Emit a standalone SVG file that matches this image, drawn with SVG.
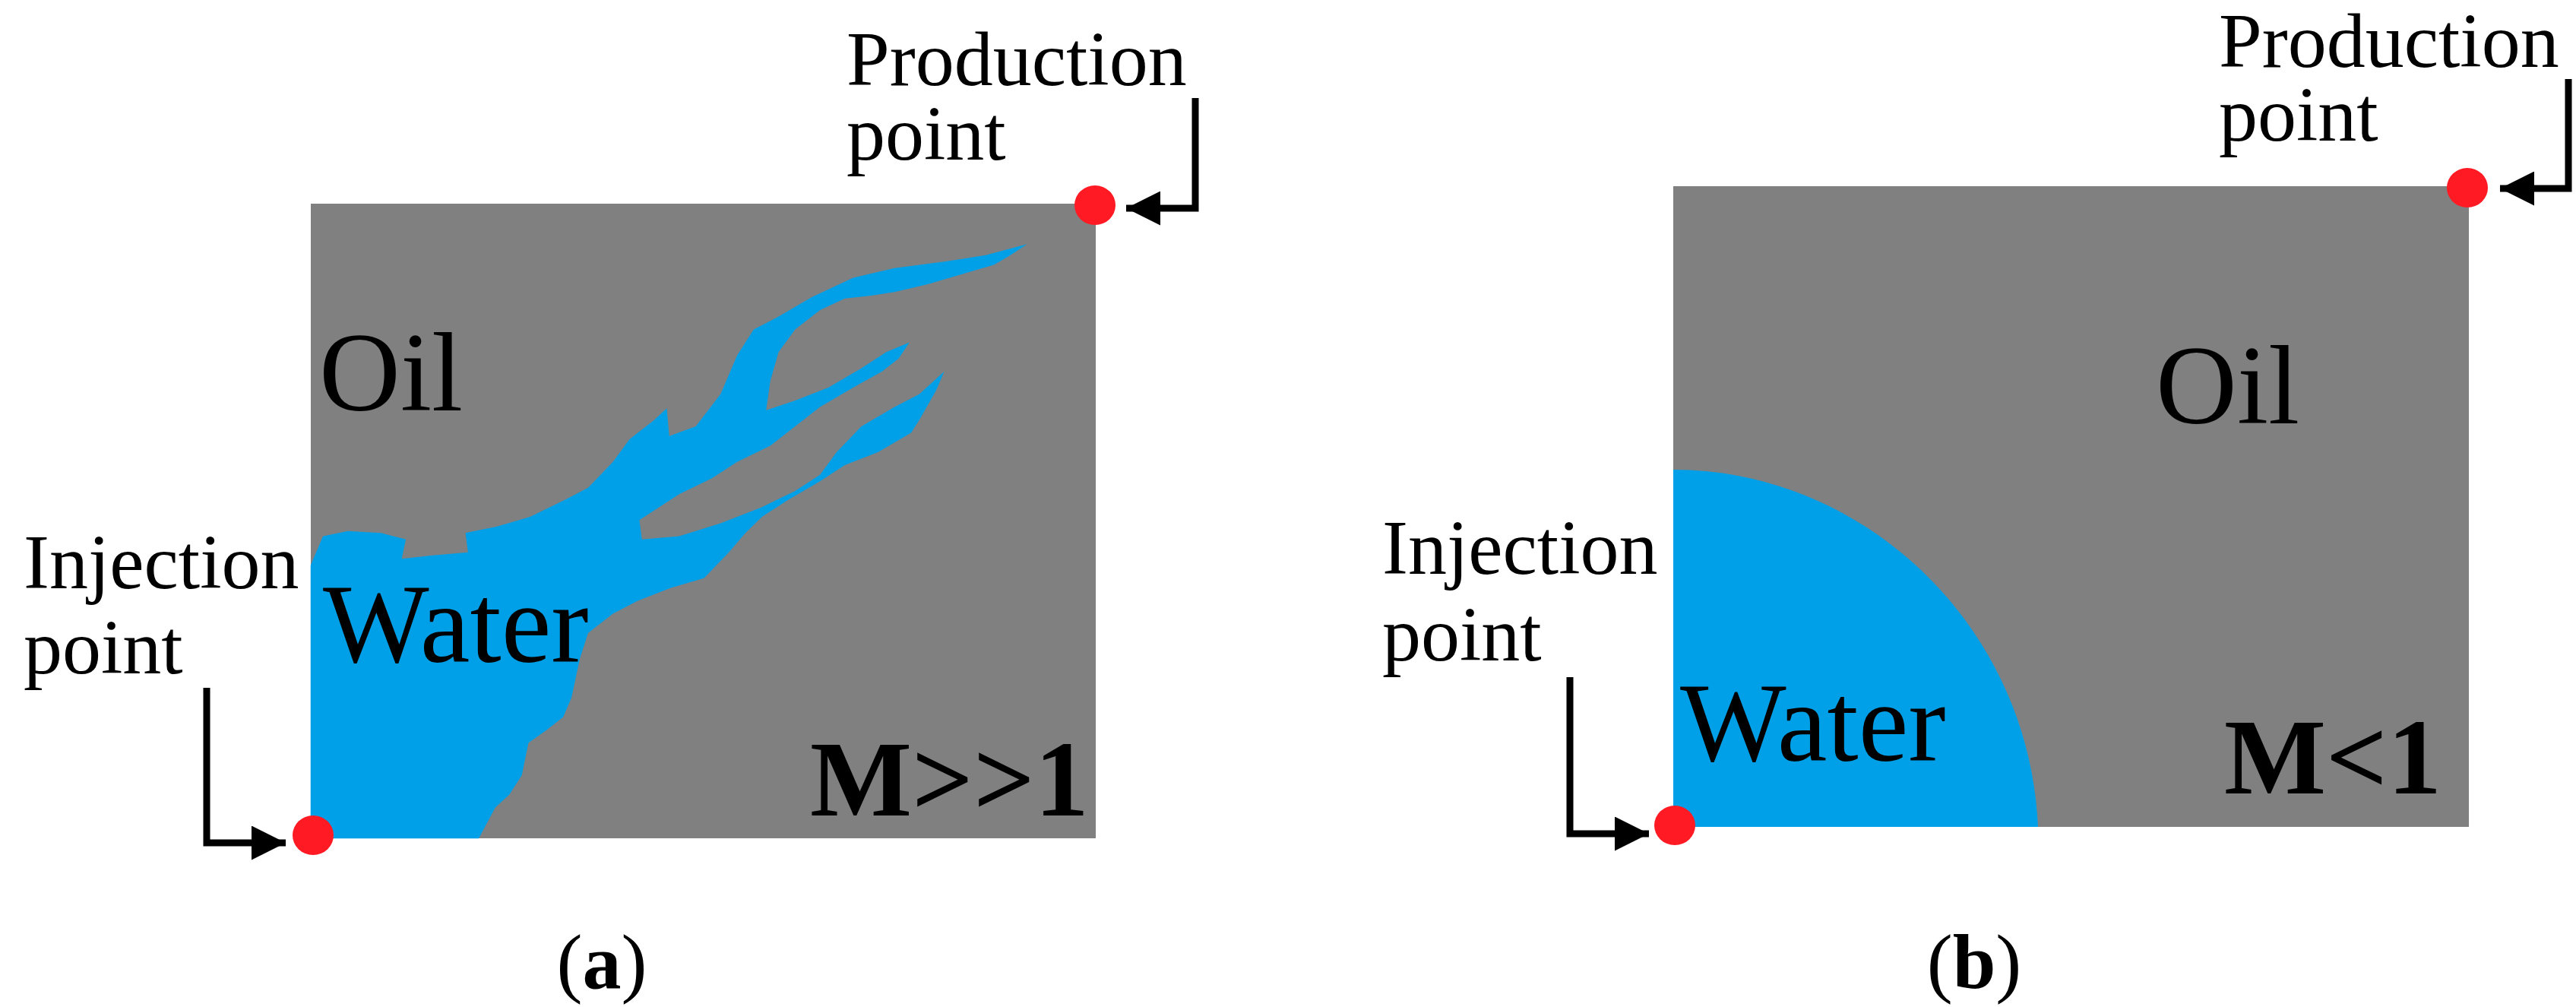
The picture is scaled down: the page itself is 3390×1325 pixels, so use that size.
<svg xmlns="http://www.w3.org/2000/svg" width="3390" height="1325" viewBox="0 0 3390 1325">
<style>
.lbl{font-size:102px}
.big{font-size:148px}
.m{font-size:142px;font-weight:bold}
.w{fill:#00a0e8}
.dot{fill:#ff1a24}
.c{fill:none;stroke:#000;stroke-width:9}
</style>
<defs>
<marker id="ah" viewBox="0 0 10 10" refX="10" refY="5" markerWidth="5" markerHeight="5" markerUnits="strokeWidth" orient="auto"><path d="M0,0 L10,5 L0,10 z" fill="#000"/></marker>
</defs>
<g id="panel-a">
<rect x="409" y="268" width="1033" height="835" fill="#808080"/>
<path class="w" transform="matrix(1.09,0,0,0.85,0,0)" d="M375,875 L390,830 420,822 460,825 490,835 485,865 520,860 565,855 562,825 600,815 640,800 680,775 710,755 740,715 760,680 790,650 805,632 808,675 840,660 855,635 870,610 890,550 910,510 940,490 980,460 1030,430 1080,415 1140,405 1190,395 1240,378 1220,395 1200,410 1160,425 1120,440 1080,452 1050,458 1020,462 990,480 960,510 940,545 930,590 925,635 960,620 1000,600 1040,570 1070,545 1098,530 1085,555 1065,575 1030,600 990,630 960,660 930,690 890,715 860,740 820,765 790,790 772,805 775,835 820,830 870,810 920,785 960,760 990,735 1010,700 1040,660 1080,630 1110,610 1140,575 1130,605 1110,650 1100,670 1060,700 1020,720 990,745 950,775 920,800 900,825 880,855 850,895 810,910 770,930 740,950 710,980 700,1020 690,1080 680,1110 660,1130 638,1150 630,1200 615,1230 598,1250 578,1298 375,1298 Z"/>
<text font-family="Liberation Serif, Times New Roman, serif" class="big" x="420" y="540">Oil</text>
<text font-family="Liberation Serif, Times New Roman, serif" class="big" x="425" y="871">Water</text>
<text font-family="Liberation Serif, Times New Roman, serif" class="m" x="1066" y="1073">M&gt;&gt;1</text>
</g>
<g id="production-a">
<ellipse class="dot" cx="1441" cy="270" rx="27" ry="26"/>
<text font-family="Liberation Serif, Times New Roman, serif" class="lbl" x="1114" y="112">Production</text>
<text font-family="Liberation Serif, Times New Roman, serif" class="lbl" x="1114" y="210">point</text>
</g>
<g id="injection-a">
<ellipse class="dot" cx="412" cy="1099" rx="27" ry="26"/>
<text font-family="Liberation Serif, Times New Roman, serif" class="lbl" x="31" y="774">Injection</text>
<text font-family="Liberation Serif, Times New Roman, serif" class="lbl" x="31" y="886">point</text>
</g>
<text font-family="Liberation Serif, Times New Roman, serif" class="lbl" x="792" y="1300" text-anchor="middle">(<tspan font-weight="bold">a</tspan>)</text>
<g id="panel-b">
<rect x="2202" y="245" width="1047" height="843" fill="#808080"/>
<path class="w" d="M2202,1088 V618 C2450,618 2670,820 2682,1088 Z"/>
<text font-family="Liberation Serif, Times New Roman, serif" class="big" x="2837" y="557">Oil</text>
<text font-family="Liberation Serif, Times New Roman, serif" class="big" x="2211" y="1001">Water</text>
<text font-family="Liberation Serif, Times New Roman, serif" class="m" x="2927" y="1044">M&lt;1</text>
</g>
<g id="production-b">
<ellipse class="dot" cx="3247" cy="247" rx="27" ry="26"/>
<text font-family="Liberation Serif, Times New Roman, serif" class="lbl" x="2920" y="88">Production</text>
<text font-family="Liberation Serif, Times New Roman, serif" class="lbl" x="2920" y="185">point</text>
</g>
<g id="injection-b">
<ellipse class="dot" cx="2204" cy="1086" rx="27" ry="26"/>
<text font-family="Liberation Serif, Times New Roman, serif" class="lbl" x="1819" y="755">Injection</text>
<text font-family="Liberation Serif, Times New Roman, serif" class="lbl" x="1819" y="869">point</text>
</g>
<text font-family="Liberation Serif, Times New Roman, serif" class="lbl" x="2598" y="1300" text-anchor="middle">(<tspan font-weight="bold">b</tspan>)</text>
<g id="connectors">
<path class="c" d="M1573,129 V274 H1482" marker-end="url(#ah)"/>
<path class="c" d="M272,905 V1109 H376" marker-end="url(#ah)"/>
<path class="c" d="M3380,104 V248 H3290" marker-end="url(#ah)"/>
<path class="c" d="M2066,891 V1097 H2170" marker-end="url(#ah)"/>
</g>
</svg>
